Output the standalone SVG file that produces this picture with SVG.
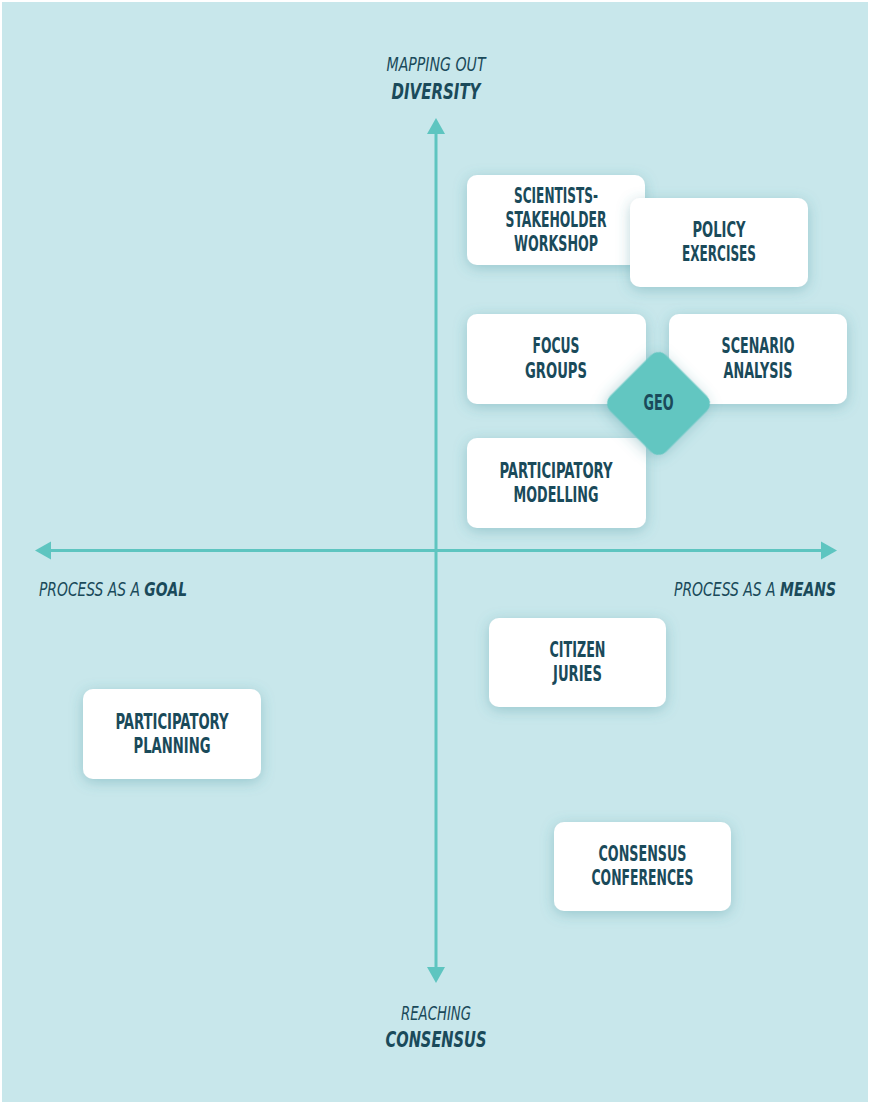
<svg xmlns="http://www.w3.org/2000/svg" width="871" height="1104" viewBox="0 0 871 1104">
<style>
.bg{fill:#c8e7eb}
.ax{stroke:#5ec5c0;stroke-width:3;fill:none}
.ah{fill:#5ec5c0}
.box{fill:#ffffff}
.geo{fill:#62c6c1}
.t{font-family:"DejaVu Sans Condensed","DejaVu Sans",sans-serif;font-stretch:condensed;font-weight:bold;font-size:21px;fill:#1a4a5a;text-anchor:middle}
.li{font-family:"DejaVu Sans Condensed","DejaVu Sans",sans-serif;font-stretch:condensed;font-style:italic;font-size:20px;fill:#1a4a5a}
.bi{font-family:"DejaVu Sans Condensed","DejaVu Sans",sans-serif;font-stretch:condensed;font-style:italic;font-weight:bold;font-size:21px;fill:#1a4a5a}
.b{font-weight:bold}
</style>
<defs>
<filter id="sh" x="-30%" y="-40%" width="160%" height="180%">
<feDropShadow dx="0" dy="3" stdDeviation="7" flood-color="#3d8a94" flood-opacity="0.35"/>
</filter>
</defs>
<rect x="0" y="0" width="871" height="1104" fill="#ffffff"/>
<rect class="bg" x="2" y="2" width="866" height="1100"/>

<g id="connectors">
<line class="ax" x1="436" y1="132" x2="436" y2="969"/>
<polygon class="ah" points="436,118 445,134 427,134"/>
<polygon class="ah" points="436,983 445,967 427,967"/>
<line class="ax" x1="50" y1="550.5" x2="823" y2="550.5"/>
<polygon class="ah" points="35,550.5 51,541.5 51,559.5"/>
<polygon class="ah" points="837,550.5 821,541.5 821,559.5"/>
</g>

<g id="axis-labels">
<text class="li" x="436" y="71" text-anchor="middle" textLength="99" lengthAdjust="spacingAndGlyphs">MAPPING OUT</text>
<text class="bi" x="436" y="99" text-anchor="middle" textLength="89" lengthAdjust="spacingAndGlyphs">DIVERSITY</text>
<text class="li" x="39" y="596" textLength="148" lengthAdjust="spacingAndGlyphs">PROCESS AS A <tspan class="b">GOAL</tspan></text>
<text class="li" x="674" y="596" textLength="162" lengthAdjust="spacingAndGlyphs">PROCESS AS A <tspan class="b">MEANS</tspan></text>
<text class="li" x="436" y="1020" text-anchor="middle" textLength="70" lengthAdjust="spacingAndGlyphs">REACHING</text>
<text class="bi" x="436" y="1047" text-anchor="middle" textLength="101" lengthAdjust="spacingAndGlyphs">CONSENSUS</text>
</g>

<g id="scientists-stakeholder-workshop">
<rect class="box" x="467" y="175" width="178" height="90" rx="10" filter="url(#sh)"/>
<text class="t" x="556" y="203" textLength="84" lengthAdjust="spacingAndGlyphs">SCIENTISTS-</text>
<text class="t" x="556" y="227" textLength="101" lengthAdjust="spacingAndGlyphs">STAKEHOLDER</text>
<text class="t" x="556" y="251" textLength="84" lengthAdjust="spacingAndGlyphs">WORKSHOP</text>
</g>

<g id="policy-exercises">
<rect class="box" x="630" y="198" width="178" height="89" rx="10" filter="url(#sh)"/>
<text class="t" x="719" y="237" textLength="53" lengthAdjust="spacingAndGlyphs">POLICY</text>
<text class="t" x="719" y="261" textLength="74" lengthAdjust="spacingAndGlyphs">EXERCISES</text>
</g>

<g id="focus-groups">
<rect class="box" x="467" y="314" width="179" height="90" rx="10" filter="url(#sh)"/>
<text class="t" x="556" y="353" textLength="47" lengthAdjust="spacingAndGlyphs">FOCUS</text>
<text class="t" x="556" y="378" textLength="62" lengthAdjust="spacingAndGlyphs">GROUPS</text>
</g>

<g id="scenario-analysis">
<rect class="box" x="669" y="314" width="178" height="90" rx="10" filter="url(#sh)"/>
<text class="t" x="758" y="353" textLength="73" lengthAdjust="spacingAndGlyphs">SCENARIO</text>
<text class="t" x="758" y="378" textLength="69" lengthAdjust="spacingAndGlyphs">ANALYSIS</text>
</g>

<g id="participatory-modelling">
<rect class="box" x="467" y="438" width="179" height="90" rx="10" filter="url(#sh)"/>
<text class="t" x="556" y="478" textLength="113" lengthAdjust="spacingAndGlyphs">PARTICIPATORY</text>
<text class="t" x="556" y="502" textLength="85" lengthAdjust="spacingAndGlyphs">MODELLING</text>
</g>

<g id="geo">
<rect class="geo" x="-39.5" y="-39.5" width="79" height="79" rx="11" transform="translate(658.5,403.5) rotate(45)" filter="url(#sh)"/>
<text class="t" x="658.5" y="410" font-size="19" textLength="30" lengthAdjust="spacingAndGlyphs">GEO</text>
</g>

<g id="citizen-juries">
<rect class="box" x="489" y="618" width="177" height="89" rx="10" filter="url(#sh)"/>
<text class="t" x="577.5" y="657" textLength="56" lengthAdjust="spacingAndGlyphs">CITIZEN</text>
<text class="t" x="577.5" y="681" textLength="49" lengthAdjust="spacingAndGlyphs">JURIES</text>
</g>

<g id="participatory-planning">
<rect class="box" x="83" y="689" width="178" height="90" rx="10" filter="url(#sh)"/>
<text class="t" x="172" y="729" textLength="113" lengthAdjust="spacingAndGlyphs">PARTICIPATORY</text>
<text class="t" x="172" y="753" textLength="77" lengthAdjust="spacingAndGlyphs">PLANNING</text>
</g>

<g id="consensus-conferences">
<rect class="box" x="554" y="822" width="177" height="89" rx="10" filter="url(#sh)"/>
<text class="t" x="642.5" y="861" textLength="88" lengthAdjust="spacingAndGlyphs">CONSENSUS</text>
<text class="t" x="642.5" y="885" textLength="102" lengthAdjust="spacingAndGlyphs">CONFERENCES</text>
</g>
</svg>
